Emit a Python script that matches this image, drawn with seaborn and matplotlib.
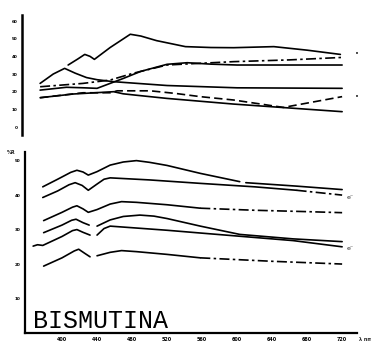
import numpy as np
import pandas as pd
import matplotlib
matplotlib.use("Agg")
import matplotlib.pyplot as plt
import seaborn as sns

sns.set_style("white")
plt.rcParams['font.family'] = ['DejaVu Sans']

# ---------------- data (wavelength nm, values) ----------------
wl_ticks = [400, 440, 480, 520, 560, 600, 640, 680, 720]
top_yticks = [0, 1, 2, 3, 4, 5, 6]
top_ylabels = ['0', '10', '20', '30', '40', '50', '60']
low_yticks = [10, 20, 30, 40, 50]

# top panel curves
T1_wl = [407, 418, 426, 432, 437, 455, 478, 490, 508, 541, 570, 596, 642, 680, 718]
T1_v = [3.51, 3.85, 4.11, 4.0, 3.83, 4.5, 5.25, 5.15, 4.89, 4.55, 4.50, 4.49, 4.55, 4.35, 4.11]
T2_wl = [375, 390, 403, 415, 428, 440, 458, 520, 600, 720]
T2_v = [2.47, 3.0, 3.32, 3.05, 2.80, 2.68, 2.57, 2.35, 2.22, 2.19]
T3_wl = [375, 405, 425, 440, 455, 470, 490, 520, 543, 570, 600, 720]
T3_v = [2.09, 2.25, 2.22, 2.19, 2.47, 2.75, 3.15, 3.55, 3.64, 3.56, 3.51, 3.51]
T4_wl = [375, 424, 455, 481, 520, 543, 596, 660, 720]
T4_v = [2.28, 2.47, 2.66, 3.04, 3.51, 3.57, 3.70, 3.80, 3.94]
T5_wl = [375, 424, 455, 463, 501, 530, 558, 596, 653, 720]
T5_v = [1.66, 1.94, 1.94, 2.05, 2.05, 1.90, 1.72, 1.53, 1.11, 1.72]
T6_wl = [375, 413, 459, 470, 485, 520, 596, 720]
T6_v = [1.66, 1.87, 2.00, 1.88, 1.80, 1.62, 1.30, 0.87]

# lower panel curves (%R)
A1_wl = [378, 395, 410, 417, 424, 430, 440, 455, 470, 485, 500, 520, 558, 603]
A1_r = [42.4, 44.6, 46.6, 47.2, 46.7, 45.8, 46.8, 48.7, 49.6, 50.0, 49.5, 48.6, 46.3, 43.9]
A2_wl = [610, 668, 720]
A2_r = [43.6, 42.6, 41.6]
B1_wl = [378, 395, 408, 415, 423, 430, 440, 448, 455, 500, 558, 620, 668]
B1_r = [39.3, 41.2, 43.0, 43.6, 42.8, 41.4, 43.2, 44.6, 45.0, 44.4, 43.4, 42.4, 41.4]
B2_wl = [668, 720]
B2_r = [41.4, 40.0]
C1_wl = [379, 400, 412, 417, 424, 430, 440, 455, 468, 485, 520, 558]
C1_r = [32.6, 35.0, 36.5, 36.9, 36.0, 35.0, 35.8, 37.4, 38.1, 37.9, 37.2, 36.2]
C2_wl = [558, 620, 680, 720]
C2_r = [36.2, 35.6, 35.2, 34.9]
D1_wl = [379, 400, 411, 416, 424, 431]
D1_r = [29.1, 31.3, 32.7, 33.0, 32.0, 31.3]
D2_wl = [440, 455, 470, 489, 505, 520, 558, 603, 664, 720]
D2_r = [31.0, 32.8, 33.8, 34.2, 33.9, 33.2, 31.0, 28.6, 27.3, 26.5]
E1_wl = [367, 372, 378, 400, 412, 417, 424, 432]
E1_r = [25.2, 25.6, 25.4, 28.0, 29.7, 30.0, 29.2, 28.4]
E2_wl = [440, 448, 455, 520, 558, 664, 720]
E2_r = [28.4, 30.3, 31.0, 29.8, 29.0, 26.8, 25.0]
F1_wl = [379, 400, 414, 419, 426, 432]
F1_r = [19.4, 21.8, 23.8, 24.3, 23.1, 22.1]
F2_wl = [440, 455, 468, 485, 520, 558]
F2_r = [22.4, 23.4, 23.9, 23.6, 22.8, 21.8]
F3_wl = [558, 640, 720]
F3_r = [21.8, 20.8, 20.0]

SOLID = '-'
DASHDOT = (0, (6, 2, 1.5, 2))
DASHED = (0, (5, 2.5))

top_curves = [(T1_wl, T1_v, SOLID), (T2_wl, T2_v, SOLID), (T3_wl, T3_v, SOLID),
              (T4_wl, T4_v, DASHDOT), (T5_wl, T5_v, DASHED), (T6_wl, T6_v, SOLID)]
low_curves = [(A1_wl, A1_r, SOLID), (A2_wl, A2_r, SOLID),
              (B1_wl, B1_r, SOLID), (B2_wl, B2_r, DASHDOT),
              (C1_wl, C1_r, SOLID), (C2_wl, C2_r, DASHDOT),
              (D1_wl, D1_r, SOLID), (D2_wl, D2_r, SOLID),
              (E1_wl, E1_r, SOLID), (E2_wl, E2_r, SOLID),
              (F1_wl, F1_r, SOLID), (F2_wl, F2_r, SOLID), (F3_wl, F3_r, DASHDOT)]

W, H = 371, 350
fig = plt.figure(figsize=(W / 100, H / 100), dpi=100)
fig.patch.set_facecolor('white')

def box(x0, y0, x1, y1):
    return [x0 / W, 1 - y1 / H, (x1 - x0) / W, (y1 - y0) / H]

# ---------------- top panel ----------------
ax1 = fig.add_axes(box(22, 15, 357, 135))
for wl, v, ls in top_curves:
    df = pd.DataFrame({'wl': wl, 'v': v})
    sns.lineplot(data=df, x='wl', y='v', ax=ax1, color='black', lw=1.2,
                 linestyle=ls, sort=False, estimator=None)
ax1.set_xlim(354.3, 737)
ax1.set_ylim(-0.45, 6.34)
for s in ['top', 'right', 'bottom']:
    ax1.spines[s].set_visible(False)
ax1.spines['left'].set_linewidth(1.8)
ax1.spines['left'].set_color('black')
ax1.set_xticks([])
ax1.set_yticks(top_yticks)
ax1.set_yticklabels(top_ylabels, fontsize=3, fontweight='bold')
ax1.tick_params(axis='y', length=2, width=1.2, pad=1, colors='black')
ax1.set_xlabel('')
ax1.set_ylabel('')
ax1.text(1.0, 4.11, '•', transform=ax1.get_yaxis_transform(), fontsize=5,
         ha='center', va='center')
ax1.text(1.0, 1.72, '•', transform=ax1.get_yaxis_transform(), fontsize=5,
         ha='center', va='center')

# ---------------- lower panel ----------------
ax2 = fig.add_axes(box(25, 152, 357, 333))
for wl, r, ls in low_curves:
    df = pd.DataFrame({'wl': wl, 'r': r})
    sns.lineplot(data=df, x='wl', y='r', ax=ax2, color='black', lw=1.2,
                 linestyle=ls, sort=False, estimator=None)
ax2.set_xlim(357.7, 737)
ax2.set_ylim(0, 52.5)
for s in ['top', 'right']:
    ax2.spines[s].set_visible(False)
for s in ['left', 'bottom']:
    ax2.spines[s].set_linewidth(1.6)
    ax2.spines[s].set_color('black')
ax2.set_xticks(wl_ticks)
ax2.set_xticklabels([str(t) for t in wl_ticks], fontsize=3.5, fontweight='bold')
ax2.tick_params(axis='x', length=0, pad=3, colors='black')
ax2.set_yticks(low_yticks)
ax2.set_yticklabels([str(t) for t in low_yticks], fontsize=3, fontweight='bold')
ax2.tick_params(axis='y', length=2, width=1.2, pad=1, colors='black')
ax2.set_xlabel('')
ax2.set_ylabel('')
ax2.text(-0.03, 1.0, '%R', transform=ax2.transAxes, fontsize=3.5,
         fontweight='bold', ha='right', va='center')
ax2.text(1.005, -0.035, 'λ nm', transform=ax2.transAxes, fontsize=3.5,
         fontweight='bold', ha='left', va='center')
ax2.text(725, 39.4, 'e⁻', fontsize=4.5, ha='left', va='center')
ax2.text(725, 24.6, 'e⁻', fontsize=4.5, ha='left', va='center')
ax2.text(0.023, 0.028, 'BISMUTINA', transform=ax2.transAxes,
         fontfamily='Liberation Mono', fontsize=18,
         ha='left', va='baseline', color='black')

fig.savefig('out.png', dpi=100)
